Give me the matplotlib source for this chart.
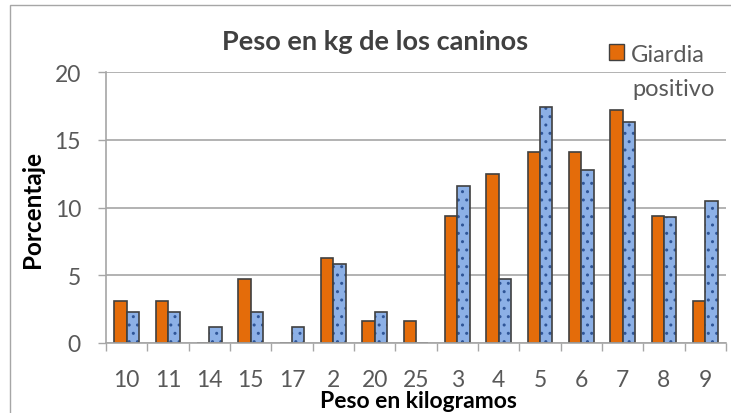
import matplotlib
matplotlib.use("Agg")
import matplotlib.pyplot as plt
from matplotlib.patches import Rectangle, Patch
import numpy as np

plt.rcParams['font.family'] = ['Lato', 'DejaVu Sans']
plt.rcParams['hatch.linewidth'] = 1.0

pesos = ['10', '11', '14', '15', '17', '2', '20', '25', '3', '4', '5', '6', '7', '8', '9']
giardia_pos = [3.1, 3.1, 0, 4.7, 0, 6.3, 1.6, 1.6, 9.4, 12.5, 14.1, 14.1, 17.2, 9.4, 3.1]
giardia_neg = [2.3, 2.3, 1.2, 2.3, 1.2, 5.8, 2.3, 0, 11.6, 4.7, 17.4, 12.8, 16.3, 9.3, 10.5]

orange = '#e46c0a'
edge = '#404040'
txt = '#595959'

W, H = 731, 414
fig = plt.figure(figsize=(W / 100, H / 100), dpi=100)

# chart border (right and bottom are cut off in the original)
fig.patches.append(Rectangle((10 / W, -0.05), 1.0, 1 - 6 / H + 0.05, transform=fig.transFigure,
                             fill=False, edgecolor='#a6a6a6', linewidth=1.0))

ax = fig.add_axes([106 / W, 70 / H, 620 / W, 271 / H])
x = np.arange(len(pesos))
w = 0.3

ax.bar(x - w / 2, giardia_pos, w, color=orange, edgecolor=edge, linewidth=1.2, zorder=3)
# textured blue bars: hatch pass, then outline pass
ax.bar(x + w / 2, giardia_neg, w, color='#8cb0e6', edgecolor='#2f5597', hatch='..',
       linewidth=0, zorder=3)
ax.bar(x + w / 2, giardia_neg, w, fill=False, edgecolor=edge, linewidth=1.2, zorder=4)

ax.set_xlim(-0.5, len(pesos) - 0.5)
ax.set_ylim(0, 20)
ax.set_yticks([0, 5, 10, 15, 20])
ax.grid(axis='y', color='#a6a6a6', linewidth=1.2, zorder=0)
ax.set_axisbelow(True)

ax.set_xticks(np.arange(-0.5, len(pesos), 1.0))
ax.set_xticklabels([])
ax.set_xticks(x, minor=True)
ax.set_xticklabels(pesos, minor=True)
ax.tick_params(axis='x', which='major', length=6, color='#a6a6a6', width=1.0)
ax.tick_params(axis='x', which='minor', length=0, pad=19, labelsize=16.5, labelcolor=txt)
ax.tick_params(axis='y', length=6, color='#a6a6a6', width=1.0, labelsize=16.5,
               labelcolor=txt, pad=12)

for s in ['top', 'right']:
    ax.spines[s].set_visible(False)
for s in ['left', 'bottom']:
    ax.spines[s].set_color('#a6a6a6')
    ax.spines[s].set_linewidth(1.2)
    ax.spines[s].set_zorder(5)

fig.text(375 / W, 1 - 50 / H, 'Peso en kg de los caninos', ha='center', va='baseline',
         fontsize=19.5, fontweight='bold', color='#404040')
fig.text(32 / W, 1 - 209 / H, 'Porcentaje', rotation=90, ha='center', va='center',
         fontsize=17.5, fontweight='bold', color='black')
fig.text(418 / W, 1 - 408 / H, 'Peso en kilogramos', ha='center', va='baseline',
         fontsize=16.5, fontweight='bold', color='black')

leg = fig.legend(handles=[Patch(facecolor=orange, edgecolor=edge, linewidth=1.0, label='Giardia')],
                 loc='center left', bbox_to_anchor=(609 / W, 1 - 55 / H), frameon=False,
                 fontsize=17, handlelength=0.64, handleheight=0.64, handletextpad=0.3,
                 borderpad=0, borderaxespad=0, labelcolor=txt)
fig.text(632 / W, 1 - 96 / H, 'positivo', ha='left', va='baseline', fontsize=17, color=txt)

fig.savefig('out.png', dpi=100)
